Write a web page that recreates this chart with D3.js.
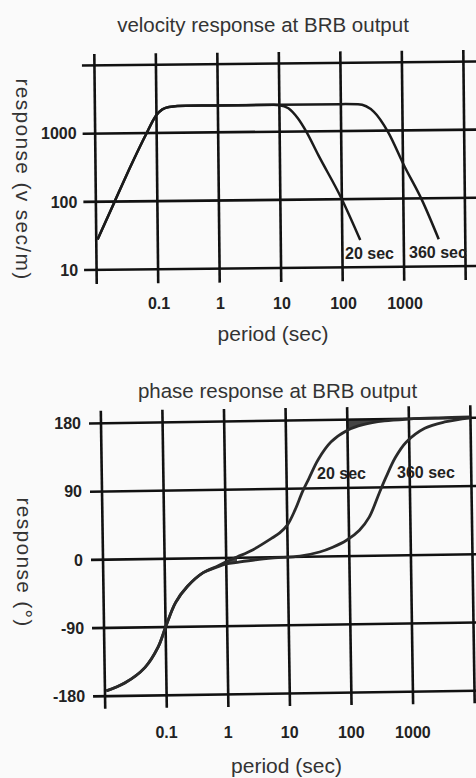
<!DOCTYPE html>
<html>
<head>
<meta charset="utf-8">
<script src="https://cdn.jsdelivr.net/npm/d3@7"></script>
<style>
  html, body { margin: 0; padding: 0; background: #fafafa; }
  svg { display: block; }
</style>
</head>
<body>
<svg id="chart" width="476" height="778"></svg>
<script>
// ---- shared period axis (log, seconds) ----
const periodTicks = [0.01, 0.1, 1, 10, 100, 1000, 10000];
const periodTickLabels = ["", "0.1", "1", "10", "100", "1000", ""];

// ---- velocity response (v sec/m) ----
const velTicks = [10, 100, 1000, 10000];
const velTickLabels = ["10", "100", "1000", ""];
const velPeriod20 = [0.0105, 0.02, 0.04, 0.066, 0.1, 0.16, 0.3, 1, 8, 10, 14, 20, 27, 42, 100, 196];
const vel20       = [28, 98, 375, 930, 1840, 2400, 2480, 2480, 2480, 2450, 2200, 1550, 1000, 450, 100, 25];
const velPeriod360 = [0.0105, 0.02, 0.04, 0.066, 0.1, 0.16, 0.3, 1, 10, 100, 190, 344, 580, 1050, 2000, 3700];
const vel360       = [28, 98, 375, 930, 1840, 2400, 2480, 2480, 2480, 2480, 2450, 1890, 950, 300, 95, 25];

// ---- phase response (degrees) ----
const phaseTicks = [-180, -90, 0, 90, 180];
const phaseTickLabels = ["-180", "-90", "0", "90", "180"];
const phasePeriod20 = [0.0105, 0.021, 0.045, 0.075, 0.1, 0.147, 0.23, 0.42, 0.7, 1, 1.5, 2.7, 5.8, 7.5, 10, 13.5, 18, 23, 33, 54, 100, 180, 400, 1000, 3000, 10000];
const phase20       = [-173, -163, -143, -116, -90, -58, -37, -19, -11, -5, 1, 10, 26, 32, 42, 62, 86, 103, 128, 151, 166, 173, 177.5, 179.5, 180.5, 181];
const phasePeriod360 = [0.0105, 0.021, 0.045, 0.075, 0.1, 0.147, 0.23, 0.42, 0.7, 1, 1.5, 3, 6, 15.8, 33, 54, 91, 148, 215, 315, 410, 590, 890, 1800, 3800, 10000];
const phase360       = [-173, -163, -143, -116, -90, -58, -37, -19, -12, -8, -6, -3, -1, 1, 6, 12, 21, 34, 51, 82, 103, 129, 149, 167, 175, 180];

const curveNames = ["20 sec", "360 sec"];

const svg = d3.select("#chart");
const INK = "#111";
const FONT = "'Liberation Sans', Arial, Helvetica, sans-serif";

function rotator(cx, cy, deg) {
  const a = deg * Math.PI / 180, c = Math.cos(a), s = Math.sin(a);
  return (x, y) => [cx + (x - cx) * c - (y - cy) * s, cy + (x - cx) * s + (y - cy) * c];
}

function drawGrid(g, x, y, xVals, yVals, xSpan, ySpan) {
  g.selectAll("line.v").data(xVals).join("line")
    .attr("class", "v")
    .attr("x1", d => x(d)).attr("x2", d => x(d))
    .attr("y1", ySpan[0]).attr("y2", ySpan[1])
    .attr("stroke", INK).attr("stroke-width", 2.6);
  g.selectAll("line.h").data(yVals).join("line")
    .attr("class", "h")
    .attr("x1", xSpan[0]).attr("x2", xSpan[1])
    .attr("y1", d => y(d)).attr("y2", d => y(d))
    .attr("stroke", INK).attr("stroke-width", 2.6);
}

function text(sel, str, x, y, opts) {
  const t = sel.append("text").attr("x", x).attr("y", y).text(str)
    .attr("font-family", FONT)
    .attr("font-size", opts.size)
    .attr("font-weight", opts.weight || "normal")
    .attr("fill", opts.fill || "#222")
    .attr("text-anchor", opts.anchor || "middle");
  if (opts.spacing) t.attr("letter-spacing", opts.spacing);
  if (opts.rotate) t.attr("transform", `rotate(${opts.rotate},${x},${y})`);
  if (opts.baseline) t.attr("dominant-baseline", opts.baseline);
  return t;
}

const pairs = (p, v) => p.map((pp, i) => ({ p: pp, v: v[i] }));

// ================= velocity panel =================
{
  const x = d3.scaleLog().domain([0.01, 10000]).range([95.5, 464.5]);
  const y = d3.scaleLog().domain([10, 10000]).range([268, 63.5]);
  const cx = 280, cy = 166, ang = -0.6;
  const rot = rotator(cx, cy, ang);
  const g = svg.append("g").attr("transform", `rotate(${ang},${cx},${cy})`);

  drawGrid(g, x, y, periodTicks, velTicks, [83, 490], [52, 282]);

  const line = d3.line().x(d => x(d.p)).y(d => y(d.v)).curve(d3.curveMonotoneX);
  [pairs(velPeriod20, vel20), pairs(velPeriod360, vel360)].forEach(rows => {
    g.append("path")
      .datum(rows)
      .attr("d", line)
      .attr("fill", "none").attr("stroke", "#1a1a1a").attr("stroke-width", 2.5)
      .attr("stroke-linejoin", "round");
  });

  // curve names
  text(svg, curveNames[0], 345, 258.5, { size: 16, weight: "bold", anchor: "start" });
  text(svg, curveNames[1], 409, 258, { size: 16, weight: "bold", anchor: "start" });

  // tick labels
  velTicks.forEach((v, i) => {
    const [tx, ty] = rot(77, y(v));
    text(svg, velTickLabels[i], tx, ty + 5.7, { size: 16, weight: "bold", anchor: "end" });
  });
  periodTicks.forEach((p, i) => {
    text(svg, periodTickLabels[i], x(p) + 2, 308.8, { size: 16, weight: "bold" });
  });

  text(svg, "velocity response at BRB output", 263, 32, { size: 20.5, fill: "#333" });
  text(svg, "period (sec)", 273, 341, { size: 21, fill: "#333" });
  text(svg, "response (v sec/m)", 23, 179.5, { size: 21, fill: "#333", rotate: 90, spacing: 1.3, baseline: "central" });
}

// ================= phase panel =================
{
  const x = d3.scaleLog().domain([0.01, 10000]).range([103, 472.5]);
  const y = d3.scaleLinear().domain([-180, 180]).range([693.5, 420.5]);
  const cx = 288, cy = 557, ang = -0.85;
  const rot = rotator(cx, cy, ang);
  const g = svg.append("g").attr("transform", `rotate(${ang},${cx},${cy})`);

  const rows20 = pairs(phasePeriod20, phase20);
  const rows360 = pairs(phasePeriod360, phase360);
  const smooth = d3.curveCatmullRom.alpha(0.5);

  // dark sliver between the 20 sec trace and the 180 line
  g.append("path")
    .datum(rows20.filter(d => d.p >= 100 && d.p <= 1000))
    .attr("d", d3.area().x(d => x(d.p)).y0(y(phaseTicks[phaseTicks.length - 1])).y1(d => y(d.v)).curve(smooth))
    .attr("fill", "#444");

  // dark sliver where the two traces separate near 0 degrees
  const shared = rows20
    .filter(d => d.p >= 0.42 && d.p <= 1.5)
    .map(d => ({ p: d.p, a: d.v, b: rows360.find(r => r.p === d.p).v }));
  g.append("path")
    .datum(shared)
    .attr("d", d3.area().x(d => x(d.p)).y0(d => y(d.b)).y1(d => y(d.a)).curve(smooth))
    .attr("fill", "#444");

  drawGrid(g, x, y, periodTicks, phaseTicks, [91, 490], [408, 706]);

  const line = d3.line().x(d => x(d.p)).y(d => y(d.v)).curve(smooth);
  [rows20, rows360].forEach(rows => {
    g.append("path")
      .datum(rows)
      .attr("d", line)
      .attr("fill", "none").attr("stroke", "#2a2a2a").attr("stroke-width", 2.8)
      .attr("stroke-linejoin", "round");
  });

  text(svg, curveNames[0], 317, 478.5, { size: 16, weight: "bold", anchor: "start" });
  text(svg, curveNames[1], 397, 477.5, { size: 16, weight: "bold", anchor: "start" });

  phaseTicks.forEach((v, i) => {
    const [tx, ty] = rot(83, y(v));
    text(svg, phaseTickLabels[i], tx, ty + 5.7, { size: 16, weight: "bold", anchor: "end" });
  });
  periodTicks.forEach((p, i) => {
    text(svg, periodTickLabels[i], x(p) + 2, 737.8, { size: 16, weight: "bold" });
  });

  text(svg, "phase response at BRB output", 277.5, 398, { size: 20.5, fill: "#333" });
  text(svg, "period (sec)", 286.5, 773, { size: 21, fill: "#333" });
  text(svg, "response (°)", 24, 562.5, { size: 21, fill: "#333", rotate: 90, spacing: 1.3, baseline: "central" });
}
</script>
</body>
</html>
